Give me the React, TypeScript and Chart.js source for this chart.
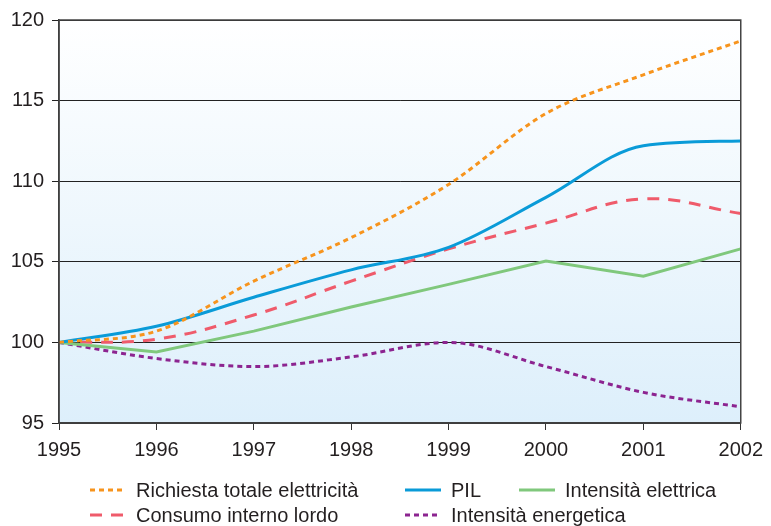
import { useEffect, useRef } from 'react';
import { Chart, registerables } from 'chart.js';

Chart.register(...registerables);

const years = ['1995', '1996', '1997', '1998', '1999', '2000', '2001', '2002'];
const yTicks = [95, 100, 105, 110, 115, 120];

const richiesta = [100, 100.7, 103.8, 106.5, 109.8, 114.2, 116.6, 118.7];
const pil = [100, 101.0, 102.8, 104.5, 105.9, 109.0, 112.2, 112.5];
const consumo = [100, 100.2, 101.7, 103.8, 105.8, 107.4, 108.9, 108.0];
const intElettrica = [100, 99.4, 100.7, 102.2, 103.6, 105.05, 104.1, 105.8];
const intEnergetica = [100, 99.0, 98.5, 99.1, 100.0, 98.5, 96.9, 96.0];

const labels = {
  richiesta: 'Richiesta totale elettricità',
  pil: 'PIL',
  intElettrica: 'Intensità elettrica',
  consumo: 'Consumo interno lordo',
  intEnergetica: 'Intensità energetica',
};

const COLORS = {
  orange: '#f7941d',
  blue: '#0a9bd8',
  red: '#ef5b6b',
  green: '#80c87c',
  purple: '#8c2490',
  text: '#231f20',
};

const FONT = '"Liberation Sans", Arial, Helvetica, sans-serif';

const bgPlugin = {
  id: 'bgFrame',
  beforeDraw(chart: any) {
    const { ctx, chartArea } = chart;
    const g = ctx.createLinearGradient(0, chartArea.top, 0, chartArea.bottom);
    g.addColorStop(0, '#ffffff');
    g.addColorStop(1, '#ddeffb');
    ctx.save();
    ctx.fillStyle = g;
    ctx.fillRect(chartArea.left, chartArea.top, chartArea.right - chartArea.left, chartArea.bottom - chartArea.top);
    ctx.restore();
  },
  afterDraw(chart: any) {
    const { ctx, chartArea } = chart;
    ctx.save();
    ctx.strokeStyle = '#444';
    ctx.lineWidth = 1.5;
    ctx.strokeRect(chartArea.left, chartArea.top, chartArea.right - chartArea.left, chartArea.bottom - chartArea.top);
    ctx.restore();

    // legend
    const items = [
      { text: labels.richiesta, color: COLORS.orange, dash: [5, 4], col: 0, row: 0 },
      { text: labels.pil, color: COLORS.blue, dash: [], col: 1, row: 0 },
      { text: labels.intElettrica, color: COLORS.green, dash: [], col: 2, row: 0 },
      { text: labels.consumo, color: COLORS.red, dash: [12, 9], col: 0, row: 1 },
      { text: labels.intEnergetica, color: COLORS.purple, dash: [5, 4], col: 1, row: 1 },
    ];
    const colX = [90, 405, 519];
    const rowY = [490, 515];
    ctx.save();
    ctx.font = `20px ${FONT}`;
    ctx.textBaseline = 'middle';
    ctx.textAlign = 'left';
    for (const it of items) {
      const x = colX[it.col];
      const y = rowY[it.row];
      ctx.strokeStyle = it.color;
      ctx.lineWidth = 3;
      ctx.setLineDash(it.dash);
      ctx.beginPath();
      ctx.moveTo(x, y);
      ctx.lineTo(x + 36, y);
      ctx.stroke();
      ctx.setLineDash([]);
      ctx.fillStyle = COLORS.text;
      ctx.fillText(it.text, x + 46, y + 1);
    }
    ctx.restore();
  },
};

export default function App() {
  const ref = useRef<HTMLCanvasElement>(null);

  useEffect(() => {
    document.body.style.margin = '0';
    const canvas = ref.current;
    if (!canvas) return;
    const chart = new Chart(canvas, {
      type: 'line',
      data: {
        labels: years,
        datasets: [
          {
            label: labels.richiesta,
            data: richiesta,
            borderColor: COLORS.orange,
            borderWidth: 3,
            borderDash: [5, 4],
            pointRadius: 0,
            cubicInterpolationMode: 'monotone',
            fill: false,
          },
          {
            label: labels.pil,
            data: pil,
            borderColor: COLORS.blue,
            borderWidth: 3,
            pointRadius: 0,
            cubicInterpolationMode: 'monotone',
            fill: false,
          },
          {
            label: labels.intElettrica,
            data: intElettrica,
            borderColor: COLORS.green,
            borderWidth: 3,
            pointRadius: 0,
            tension: 0,
            fill: false,
          },
          {
            label: labels.consumo,
            data: consumo,
            borderColor: COLORS.red,
            borderWidth: 3,
            borderDash: [12, 9],
            pointRadius: 0,
            tension: 0.4,
            fill: false,
          },
          {
            label: labels.intEnergetica,
            data: intEnergetica,
            borderColor: COLORS.purple,
            borderWidth: 3,
            borderDash: [5, 4],
            pointRadius: 0,
            cubicInterpolationMode: 'monotone',
            fill: false,
          },
        ],
      },
      options: {
        responsive: false,
        animation: false,
        devicePixelRatio: 1,
        layout: { padding: { left: 0, top: 18, right: 30, bottom: 0 } },
        plugins: {
          legend: { display: false },
          tooltip: { enabled: false },
        },
        scales: {
          x: {
            offset: false,
            grid: {
              drawOnChartArea: false,
              drawTicks: true,
              tickLength: 7,
              color: '#333',
              offset: false,
            },
            border: { color: '#333', width: 1.5 },
            ticks: {
              color: COLORS.text,
              font: { family: FONT, size: 20 },
              padding: 8,
              maxRotation: 0,
            },
            afterFit(scale: any) {
              scale.height = 103;
            },
          },
          y: {
            min: 95,
            max: 120,
            afterBuildTicks(scale: any) {
              scale.ticks = yTicks.map((v) => ({ value: v }));
            },
            grid: {
              color: '#222',
              lineWidth: 1,
              drawTicks: true,
              tickLength: 7,
            },
            border: { color: '#333', width: 1.5 },
            ticks: {
              color: COLORS.text,
              font: { family: FONT, size: 20 },
              padding: 8,
            },
            afterFit(scale: any) {
              scale.width = 59;
            },
          },
        },
      },
      plugins: [bgPlugin],
    });
    return () => chart.destroy();
  }, []);

  return (
    <div style={{ width: 771, height: 526 }}>
      <canvas ref={ref} width={771} height={526} />
    </div>
  );
}
